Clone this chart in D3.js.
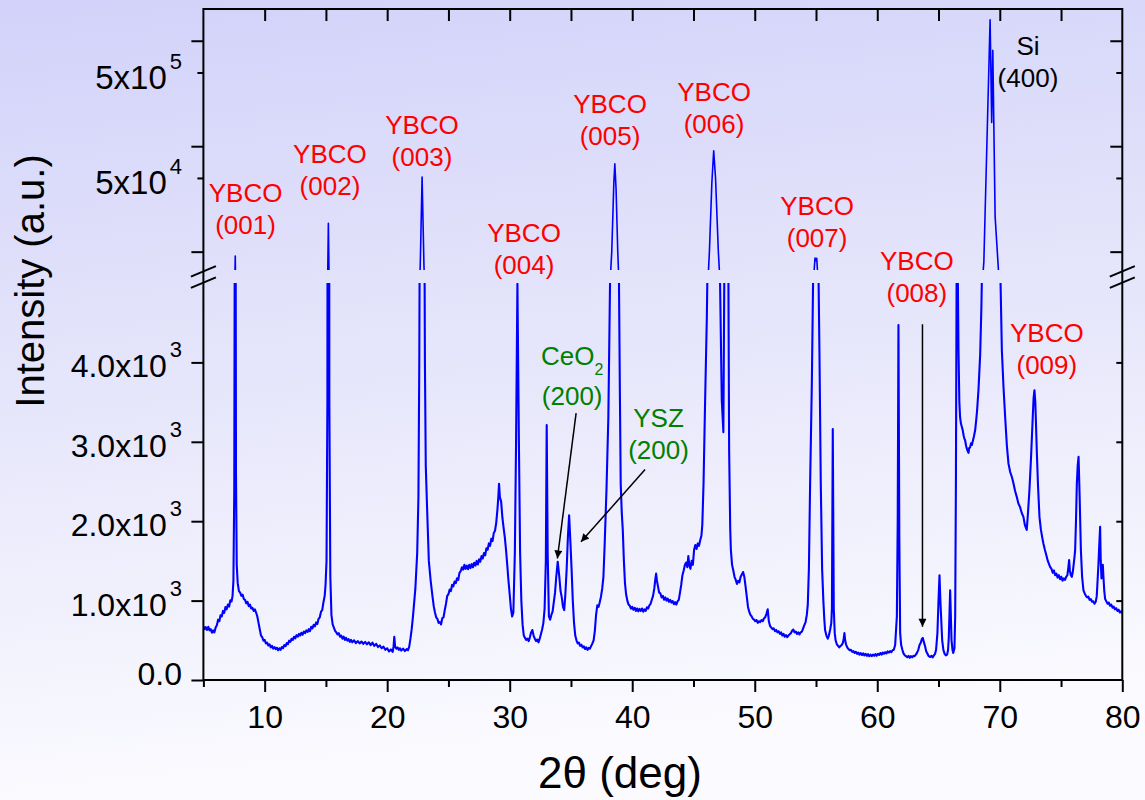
<!DOCTYPE html>
<html>
<head>
<meta charset="utf-8">
<script src="https://cdn.jsdelivr.net/npm/d3@7"></script>
<style>
  html, body { margin: 0; padding: 0; background: #ffffff; }
  svg { display: block; }
  text { font-family: "Liberation Sans", Arial, Helvetica, sans-serif; }
</style>
</head>
<body>
<svg id="chart" width="1145" height="800"></svg>
<script>
// XRD theta-2theta scan: [2θ (deg), intensity (counts)]
const scanPoints = [
  [5.0,680],[5.1,640],[5.2,665],[5.3,630],[5.4,670],[5.5,625],[5.6,640],[5.7,595],[5.8,625],[5.9,600],
  [6.0,660],[6.1,690],[6.2,760],[6.3,740],[6.4,815],[6.5,800],[6.6,870],[6.7,845],[6.8,920],[6.9,890],
  [7.0,950],[7.1,925],[7.2,1005],[7.3,990],[7.38,1060],[7.45,1250],[7.52,2400],[7.6,9100],[7.66,2600],
  [7.72,1450],[7.8,1220],[7.9,1120],[8.0,1100],[8.1,1060],[8.2,1075],[8.3,1020],[8.4,1010],[8.5,965],
  [8.6,985],[8.7,930],[8.8,950],[8.9,900],[9.0,910],[9.1,870],[9.2,890],[9.3,850],[9.4,800],[9.5,720],
  [9.6,640],[9.7,560],[9.8,540],[9.9,495],[10.0,505],[10.1,460],[10.2,470],[10.3,435],[10.4,450],
  [10.5,410],[10.6,430],[10.7,395],[10.8,415],[10.9,390],[11.0,405],[11.1,375],[11.2,400],[11.3,380],
  [11.4,415],[11.5,400],[11.6,440],[11.7,425],[11.8,465],[11.9,450],[12.0,495],[12.1,480],[12.2,520],
  [12.3,505],[12.4,545],[12.5,525],[12.6,565],[12.7,545],[12.8,580],[12.9,560],[13.0,595],[13.1,570],
  [13.2,610],[13.3,590],[13.4,625],[13.5,605],[13.6,640],[13.7,615],[13.8,670],[13.9,650],[14.0,695],
  [14.1,675],[14.2,725],[14.3,705],[14.4,770],[14.5,790],[14.6,860],[14.7,880],[14.8,980],[14.9,1060],
  [14.97,1200],[15.05,1500],[15.12,3500],[15.2,18600],[15.28,3500],[15.36,1300],[15.45,820],[15.55,700],
  [15.65,660],[15.75,620],[15.85,600],[15.95,575],[16.05,590],[16.15,545],[16.25,560],[16.35,520],
  [16.45,545],[16.55,505],[16.65,530],[16.75,495],[16.85,515],[16.95,480],[17.05,505],[17.15,475],
  [17.3,500],[17.45,465],[17.6,490],[17.75,460],[17.9,485],[18.05,455],[18.2,480],[18.35,450],[18.5,475],
  [18.65,440],[18.8,470],[18.95,430],[19.1,455],[19.25,415],[19.4,435],[19.55,400],[19.7,420],[19.85,380],
  [20.0,400],[20.15,360],[20.3,385],[20.45,355],[20.52,420],[20.58,545],[20.65,420],[20.75,395],
  [20.85,410],[20.95,380],[21.05,400],[21.15,370],[21.3,395],[21.45,365],[21.6,390],[21.7,375],
  [21.8,420],[21.9,520],[22.0,640],[22.08,760],[22.15,880],[22.3,1150],[22.45,1600],[22.55,2300],
  [22.62,4000],[22.7,7500],[22.85,51000],[23.0,7500],[23.08,4000],[23.15,2700],[23.25,2200],[23.4,1500],
  [23.55,1250],[23.7,1050],[23.8,930],[23.9,850],[24.0,790],[24.1,770],[24.2,720],[24.3,730],[24.4,700],
  [24.5,780],[24.6,790],[24.7,880],[24.8,960],[24.9,1060],[25.0,1080],[25.1,1140],[25.2,1120],[25.3,1200],
  [25.4,1180],[25.5,1240],[25.6,1220],[25.7,1280],[25.8,1260],[25.9,1350],[26.0,1370],[26.1,1420],
  [26.2,1390],[26.3,1450],[26.4,1400],[26.5,1440],[26.6,1395],[26.7,1450],[26.8,1410],[26.9,1460],
  [27.0,1420],[27.1,1475],[27.2,1440],[27.3,1500],[27.4,1455],[27.5,1520],[27.6,1490],[27.7,1560],
  [27.8,1530],[27.9,1600],[28.0,1570],[28.1,1660],[28.2,1640],[28.3,1720],[28.4,1690],[28.5,1780],
  [28.6,1750],[28.7,1850],[28.8,1880],[28.9,1980],[29.0,2150],[29.07,2300],[29.13,2470],[29.2,2300],
  [29.3,2250],[29.4,2050],[29.5,1920],[29.6,1800],[29.7,1640],[29.8,1450],[29.9,1250],[30.0,1080],
  [30.1,900],[30.2,800],[30.3,850],[30.42,1600],[30.52,3000],[30.63,4990],[30.75,3000],[30.85,1600],
  [30.95,1000],[31.05,700],[31.15,560],[31.25,530],[31.35,505],[31.45,520],[31.55,490],[31.65,540],
  [31.75,600],[31.85,630],[31.95,560],[32.05,520],[32.15,490],[32.25,510],[32.35,475],[32.45,520],
  [32.55,580],[32.65,640],[32.75,720],[32.85,900],[32.95,1500],[33.02,3210],[33.1,1600],[33.2,800],
  [33.3,760],[33.4,820],[33.5,860],[33.6,980],[33.7,1100],[33.8,1300],[33.92,1490],[34.05,1300],
  [34.15,1120],[34.25,1040],[34.35,920],[34.45,880],[34.55,1100],[34.65,1400],[34.75,1800],[34.85,2075],
  [34.95,1750],[35.05,1400],[35.15,1000],[35.25,720],[35.35,560],[35.45,500],[35.55,460],[35.65,470],
  [35.75,430],[35.85,445],[35.95,410],[36.05,425],[36.15,390],[36.25,410],[36.35,380],[36.45,405],
  [36.55,395],[36.65,430],[36.75,460],[36.85,500],[36.95,620],[37.05,820],[37.15,940],[37.25,920],
  [37.35,980],[37.45,1050],[37.55,1150],[37.65,1300],[37.75,1700],[37.9,2400],[38.05,3300],[38.19,5000],
  [38.33,10000],[38.5,45000],[38.58,68000],[38.68,40000],[38.82,10000],[38.92,5000],[39.0,3500],
  [39.06,2470],[39.15,2100],[39.23,1890],[39.32,1500],[39.41,1216],[39.5,1080],[39.6,1000],[39.7,950],
  [39.8,935],[39.9,900],[40.0,920],[40.1,885],[40.2,910],[40.3,870],[40.4,900],[40.5,865],[40.6,895],
  [40.7,870],[40.8,900],[40.9,860],[41.0,890],[41.1,870],[41.2,915],[41.3,900],[41.4,940],[41.5,960],
  [41.6,1010],[41.7,1060],[41.8,1150],[41.88,1260],[41.95,1340],[42.02,1250],[42.1,1180],[42.2,1100],
  [42.3,1090],[42.4,1040],[42.5,1060],[42.6,1010],[42.7,1040],[42.8,1000],[42.9,1025],[43.0,985],
  [43.1,1010],[43.2,975],[43.3,995],[43.4,955],[43.5,980],[43.6,950],[43.7,990],[43.8,1010],[43.9,1100],
  [44.0,1200],[44.1,1320],[44.2,1380],[44.3,1450],[44.4,1480],[44.5,1420],[44.58,1560],[44.66,1450],
  [44.75,1400],[44.85,1500],[44.95,1450],[45.05,1640],[45.15,1700],[45.25,1650],[45.35,1720],[45.45,1690],
  [45.55,1760],[45.65,1820],[45.72,1950],[45.82,2470],[45.95,3520],[46.09,4570],[46.2,5800],[46.3,10000],
  [46.5,45000],[46.65,90600],[46.8,50000],[47.03,10000],[47.17,5000],[47.31,3520],[47.44,3120],
  [47.52,5200],[47.68,6200],[47.85,5100],[47.91,2900],[48.0,1900],[48.05,1640],[48.15,1450],[48.25,1380],
  [48.35,1300],[48.45,1260],[48.55,1210],[48.65,1250],[48.75,1230],[48.85,1300],[48.95,1330],[49.05,1360],
  [49.15,1300],[49.25,1180],[49.35,1050],[49.45,920],[49.55,860],[49.65,820],[49.75,800],[49.85,770],
  [49.95,760],[50.05,740],[50.15,755],[50.25,720],[50.35,740],[50.45,730],[50.55,755],[50.65,740],
  [50.75,775],[50.85,790],[50.95,830],[51.06,890],[51.15,740],[51.25,680],[51.35,660],[51.45,640],
  [51.55,650],[51.65,615],[51.75,630],[51.85,600],[51.95,615],[52.05,580],[52.15,600],[52.25,560],
  [52.35,580],[52.45,545],[52.55,565],[52.65,540],[52.75,560],[52.85,575],[52.95,590],[53.05,620],
  [53.15,635],[53.25,600],[53.35,610],[53.45,580],[53.55,600],[53.65,575],[53.75,600],[53.85,610],
  [53.95,650],[54.05,690],[54.15,730],[54.25,820],[54.33,950],[54.42,1400],[54.52,2470],[54.66,3730],
  [54.8,5500],[54.92,8700],[55.0,8200],[55.06,8660],[55.15,5800],[55.28,4150],[55.39,2470],[55.5,1400],
  [55.6,1000],[55.68,760],[55.74,630],[55.85,560],[55.96,520],[56.05,560],[56.15,630],[56.25,720],
  [56.3,900],[56.37,3160],[56.45,900],[56.53,590],[56.6,500],[56.7,450],[56.8,430],[56.9,410],[57.0,430],
  [57.1,440],[57.2,470],[57.26,520],[57.32,590],[57.38,500],[57.45,450],[57.55,410],[57.65,390],
  [57.75,375],[57.85,380],[57.95,355],[58.05,365],[58.15,340],[58.25,355],[58.35,330],[58.45,345],
  [58.55,320],[58.65,340],[58.75,315],[58.85,335],[58.95,310],[59.05,330],[59.15,305],[59.25,325],
  [59.35,300],[59.45,320],[59.55,300],[59.65,320],[59.75,305],[59.85,325],[59.95,305],[60.05,330],
  [60.15,315],[60.25,340],[60.35,320],[60.45,345],[60.55,330],[60.65,350],[60.75,335],[60.85,360],
  [60.95,345],[61.05,365],[61.15,350],[61.25,375],[61.35,380],[61.46,440],[61.6,800],[61.67,2000],
  [61.73,4470],[61.8,1800],[61.87,590],[61.95,440],[62.05,380],[62.14,335],[62.25,310],[62.35,300],
  [62.45,285],[62.55,305],[62.65,280],[62.75,300],[62.85,285],[62.95,305],[63.05,300],[63.15,320],
  [63.25,345],[63.35,380],[63.45,440],[63.55,470],[63.65,520],[63.72,530],[63.8,480],[63.91,420],
  [64.0,360],[64.1,330],[64.2,300],[64.32,290],[64.42,305],[64.52,285],[64.62,310],[64.72,330],
  [64.8,380],[64.91,590],[65.0,1000],[65.08,1320],[65.15,1000],[65.21,800],[65.3,500],[65.4,377],
  [65.5,330],[65.6,310],[65.7,320],[65.78,380],[65.84,545],[65.95,1130],[66.06,503],[66.14,380],
  [66.2,340],[66.3,400],[66.36,800],[66.42,2500],[66.5,6200],[66.58,5000],[66.63,4150],[66.7,3500],
  [66.76,3310],[66.83,3230],[66.9,3190],[66.97,3150],[67.05,3080],[67.11,3040],[67.17,3020],[67.25,2950],
  [67.3,2920],[67.36,2890],[67.45,2860],[67.5,2920],[67.58,2930],[67.65,2980],[67.72,2960],[67.8,3010],
  [67.88,3060],[67.99,3145],[68.08,3280],[68.15,3400],[68.26,3650],[68.4,4100],[68.5,4700],[68.6,5600],
  [68.7,8000],[69.21,1580000],[69.34,168000],[69.43,810000],[69.62,21500],[69.89,6700],[70.0,5500],
  [70.17,4150],[70.3,3700],[70.44,3310],[70.58,2950],[70.71,2725],[70.85,2620],[71.0,2550],[71.12,2474],
  [71.25,2380],[71.38,2310],[71.52,2222],[71.65,2180],[71.8,2100],[71.93,2054],[72.05,1950],[72.2,1890],
  [72.3,2100],[72.42,2390],[72.55,2800],[72.69,3310],[72.76,3550],[72.83,3650],[72.9,3500],[72.96,3200],
  [73.02,2890],[73.12,2450],[73.24,2054],[73.35,1900],[73.46,1800],[73.56,1720],[73.68,1640],[73.8,1570],
  [73.92,1500],[74.02,1460],[74.11,1425],[74.22,1400],[74.32,1350],[74.42,1380],[74.52,1320],[74.62,1340],
  [74.72,1290],[74.82,1320],[74.92,1270],[75.02,1300],[75.12,1250],[75.22,1280],[75.32,1260],[75.42,1300],
  [75.52,1320],[75.6,1420],[75.66,1510],[75.72,1380],[75.8,1320],[75.88,1300],[75.95,1350],[76.02,1440],
  [76.1,1550],[76.15,1635],[76.22,2000],[76.29,2474],[76.36,2700],[76.43,2810],[76.52,2300],[76.62,1635],
  [76.72,1300],[76.83,1130],[76.93,1090],[77.03,1060],[77.13,1040],[77.23,1050],[77.33,1010],[77.43,1020],
  [77.53,985],[77.63,990],[77.73,960],[77.83,985],[77.91,1050],[77.97,1216],[78.05,1450],[78.12,1700],
  [78.19,1930],[78.24,1500],[78.3,1280],[78.36,1300],[78.41,1450],[78.46,1300],[78.53,1120],[78.6,1020],
  [78.7,990],[78.8,960],[78.9,975],[79.0,935],[79.1,950],[79.2,910],[79.3,925],[79.4,890],[79.5,905],
  [79.6,870],[79.7,885],[79.8,850],[79.9,865],[80.0,839]
];

// axis ticks and labels
const xMajorTicks = [10, 20, 30, 40, 50, 60, 70, 80];
const xMinorTicks = [5, 15, 25, 35, 45, 55, 65, 75];
const lowerTicks = [0, 1000, 2000, 3000, 4000];
const lowerTickLabels = [["0.0", ""], ["1.0x10", "3"], ["2.0x10", "3"], ["3.0x10", "3"], ["4.0x10", "3"]];
const upperMajorTicks = [1e4, 1e5, 1e6];
const upperMinorTicks = [5e4, 5e5];
const upperTickLabels = [["5x10", "4"], ["5x10", "5"]];

// peak annotations: [line1, line2, 2θ of text centre, baseline of line1 (px), colour]
const peakLabels = [
  ["YBCO", "(001)", 8.44, 202, "#ff0000"],
  ["YBCO", "(002)", 15.33, 163, "#ff0000"],
  ["YBCO", "(003)", 22.84, 134, "#ff0000"],
  ["YBCO", "(004)", 31.17, 242, "#ff0000"],
  ["YBCO", "(005)", 38.19, 113, "#ff0000"],
  ["YBCO", "(006)", 46.68, 101, "#ff0000"],
  ["YBCO", "(007)", 55.09, 215, "#ff0000"],
  ["YBCO", "(008)", 63.23, 270, "#ff0000"],
  ["YBCO", "(009)", 73.84, 342, "#ff0000"],
  ["Si", "(400)", 72.3, 55, "#000000"],
  ["YSZ", "(200)", 42.15, 427, "#008000"]
];
// arrows pointing at weak peaks: [from 2θ, from intensity, to 2θ, to intensity]
const arrows = [
  [35.42, 3360, 33.89, 1530],
  [41.05, 2650, 35.82, 1740],
  [63.69, 4480, 63.69, 670]
];

const W = 1145, H = 800;
const plot = { left: 203.4, right: 1122.3, top: 9, bottom: 680, lowTop: 283, upBottom: 270 };

const svg = d3.select("#chart");

// background gradient
const defs = svg.append("defs");
const grad = defs.append("linearGradient").attr("id", "bg")
  .attr("x1", 0).attr("y1", 0).attr("x2", 0.15).attr("y2", 1);
grad.append("stop").attr("offset", 0).attr("stop-color", "#d2d2fa");
grad.append("stop").attr("offset", 0.5).attr("stop-color", "#e6e6fb");
grad.append("stop").attr("offset", 1).attr("stop-color", "#fbfbff");
svg.append("rect").attr("width", W).attr("height", H).attr("fill", "url(#bg)");

defs.append("clipPath").attr("id", "clipLow").append("rect")
  .attr("x", plot.left).attr("y", plot.lowTop)
  .attr("width", plot.right - plot.left).attr("height", plot.bottom - plot.lowTop);
defs.append("clipPath").attr("id", "clipUp").append("rect")
  .attr("x", plot.left).attr("y", plot.top)
  .attr("width", plot.right - plot.left).attr("height", plot.upBottom - plot.top);
defs.append("marker").attr("id", "arrowHead")
  .attr("viewBox", "0 0 10 10").attr("refX", 10).attr("refY", 5)
  .attr("markerUnits", "userSpaceOnUse").attr("markerWidth", 11).attr("markerHeight", 8)
  .attr("orient", "auto")
  .append("path").attr("d", "M0,0 L10,5 L0,10 Z").attr("fill", "#000");

// scales: linear lower segment and logarithmic upper segment
const x = d3.scaleLinear().domain([5, 80]).range([plot.left, plot.right]);
const yLow = d3.scaleLinear().domain([0, 5000]).range([plot.bottom, plot.lowTop]);
const yUp = d3.scaleLog().domain([6700, 2e6]).range([plot.upBottom, plot.top]);
const yAny = v => (v <= 5000 ? yLow(v) : yUp(v));

// data line, drawn once per axis segment
svg.append("path").datum(scanPoints)
  .attr("clip-path", "url(#clipLow)")
  .attr("fill", "none").attr("stroke", "#0000ff").attr("stroke-width", 2.1)
  .attr("stroke-linejoin", "round")
  .attr("d", d3.line().x(d => x(d[0])).y(d => yLow(d[1])));
svg.append("path").datum(scanPoints)
  .attr("clip-path", "url(#clipUp)")
  .attr("fill", "none").attr("stroke", "#0000ff").attr("stroke-width", 1.6)
  .attr("stroke-linejoin", "round")
  .attr("d", d3.line().x(d => x(d[0])).y(d => yUp(d[1])));

// axes
const axisColor = "#000";
function styleAxis(g) {
  g.select(".domain").remove();
  g.selectAll(".tick line").attr("stroke", axisColor).attr("stroke-width", 2);
}
// bottom
svg.append("g").attr("transform", `translate(0,${plot.bottom})`)
  .call(d3.axisBottom(x).tickValues(xMajorTicks).tickSize(12).tickPadding(13).tickFormat(d3.format("d")))
  .call(styleAxis)
  .call(g => g.selectAll("text").attr("font-size", 32).attr("fill", "#000")
    .attr("font-family", "'Liberation Sans', Arial, sans-serif"));
svg.append("g").attr("transform", `translate(0,${plot.bottom})`)
  .call(d3.axisBottom(x).tickValues(xMinorTicks).tickSize(7).tickFormat(""))
  .call(styleAxis);
// top (inward)
svg.append("g").attr("transform", `translate(0,${plot.top})`)
  .call(d3.axisBottom(x).tickValues(xMinorTicks.concat(xMajorTicks).filter(v => v > 5 && v < 80)).tickSize(12).tickFormat(""))
  .call(styleAxis);
// left lower
svg.append("g").attr("transform", `translate(${plot.left},0)`)
  .call(d3.axisLeft(yLow).tickValues(lowerTicks).tickSize(12).tickFormat(""))
  .call(styleAxis);
// left upper
svg.append("g").attr("transform", `translate(${plot.left},0)`)
  .call(d3.axisLeft(yUp).tickValues(upperMajorTicks).tickSize(12).tickFormat(""))
  .call(styleAxis);
svg.append("g").attr("transform", `translate(${plot.left},0)`)
  .call(d3.axisLeft(yUp).tickValues(upperMinorTicks).tickSize(6).tickFormat(""))
  .call(styleAxis);
// right (inward)
svg.append("g").attr("transform", `translate(${plot.right},0)`)
  .call(d3.axisLeft(yLow).tickValues(lowerTicks.filter(v => v > 0)).tickSize(6).tickFormat(""))
  .call(styleAxis);
svg.append("g").attr("transform", `translate(${plot.right},0)`)
  .call(d3.axisLeft(yUp).tickValues(upperMajorTicks).tickSize(12).tickFormat(""))
  .call(styleAxis);
svg.append("g").attr("transform", `translate(${plot.right},0)`)
  .call(d3.axisLeft(yUp).tickValues(upperMinorTicks).tickSize(6).tickFormat(""))
  .call(styleAxis);

// frame
svg.append("rect").attr("x", plot.left).attr("y", plot.top)
  .attr("width", plot.right - plot.left).attr("height", plot.bottom - plot.top)
  .attr("fill", "none").attr("stroke", axisColor).attr("stroke-width", 2);

// axis break marks
const breakY = (plot.lowTop + plot.upBottom) / 2 + 0.5;
[plot.left, plot.right].forEach(cx => {
  [-5.6, 5.6].forEach(off => {
    svg.append("line")
      .attr("x1", cx - 12.5).attr("y1", breakY + off + 5.3)
      .attr("x2", cx + 12.5).attr("y2", breakY + off - 5.3)
      .attr("stroke", axisColor).attr("stroke-width", 2);
  });
});

// y tick labels with superscript exponents
function powerLabel(yPos, base, exp, size) {
  const t = svg.append("text").attr("x", 182).attr("y", yPos)
    .attr("text-anchor", "end").attr("font-size", size).attr("fill", "#000");
  t.append("tspan").text(base);
  if (exp) t.append("tspan").attr("dx", 3).attr("dy", -20).attr("font-size", 22).text(exp);
}
lowerTicks.forEach((v, i) => {
  const lab = lowerTickLabels[i];
  powerLabel(yLow(v) + (lab[1] ? 15 : 5), lab[0], lab[1], 32);
});
upperMinorTicks.forEach((v, i) => {
  const lab = upperTickLabels[i];
  powerLabel(yUp(v) + 16.5, lab[0], lab[1], 33);
});

// axis titles
svg.append("text").attr("transform", "translate(44,281) rotate(-90)")
  .attr("text-anchor", "middle").attr("font-size", 40).attr("fill", "#000")
  .text("Intensity (a.u.)");
svg.append("text").attr("x", 620).attr("y", 788)
  .attr("text-anchor", "middle").attr("font-size", 44).attr("fill", "#000")
  .text("2θ (deg)");

// peak labels
peakLabels.forEach(([l1, l2, t, by, col]) => {
  const g = svg.append("g").attr("fill", col).attr("font-size", 26).attr("text-anchor", "middle");
  g.append("text").attr("x", x(t)).attr("y", by).text(l1);
  g.append("text").attr("x", x(t)).attr("y", by + 32).text(l2);
});
// CeO2 label with subscript
const ceo = svg.append("g").attr("fill", "#008000").attr("font-size", 26);
const ceoText = ceo.append("text").attr("x", x(35.1)).attr("y", 365).attr("text-anchor", "middle");
ceoText.append("tspan").text("CeO");
ceoText.append("tspan").attr("dy", 10).attr("font-size", 16).text("2");
ceo.append("text").attr("x", x(35.1)).attr("y", 405).attr("text-anchor", "middle").text("(200)");

// arrows
arrows.forEach(([t0, v0, t1, v1]) => {
  svg.append("line")
    .attr("x1", x(t0)).attr("y1", yAny(v0))
    .attr("x2", x(t1)).attr("y2", yAny(v1))
    .attr("stroke", "#000").attr("stroke-width", 1.5)
    .attr("marker-end", "url(#arrowHead)");
});
</script>
</body>
</html>
